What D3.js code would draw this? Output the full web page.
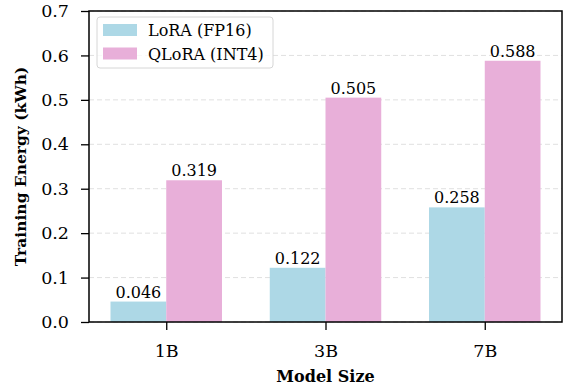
<!DOCTYPE html>
<html>
<head>
<meta charset="utf-8">
<script src="https://cdn.jsdelivr.net/npm/d3@7"></script>
<style>
  body { margin: 0; background: #fff; }
  text { font-family: "DejaVu Serif", serif; fill: #000; }
</style>
</head>
<body>
<svg id="chart"></svg>
<script>
// grouped bars: training energy by model size
const width = 564;
const height = 387;

const categories = ["1B", "3B", "7B"];
const seriesNames = ["LoRA (FP16)", "QLoRA (INT4)"];
const loraValues = [0.046, 0.122, 0.258];
const qloraValues = [0.319, 0.505, 0.588];
const yTicks = [0.0, 0.1, 0.2, 0.3, 0.4, 0.5, 0.6, 0.7];

const colors = ["#add8e6", "#e8afd9"];

const margin = { left: 89, right: 2, top: 11, bottom: 65 };

const svg = d3.select("#chart")
  .attr("width", width)
  .attr("height", height);

// bars sit at 0,1,2 with width 0.35, plus the usual 5% side margin
const x = d3.scaleLinear()
  .domain([-0.485, 2.485])
  .range([margin.left, width - margin.right]);

const y = d3.scaleLinear()
  .domain([0, 0.7])
  .range([height - margin.bottom, margin.top]);

const barW = 0.35;

// grid lines
svg.append("g")
  .selectAll("line")
  .data(yTicks)
  .enter()
  .append("line")
  .attr("x1", margin.left)
  .attr("x2", width - margin.right)
  .attr("y1", d => y(d))
  .attr("y2", d => y(d))
  .attr("stroke", "#e0e0e0")
  .attr("stroke-width", 1)
  .attr("stroke-dasharray", "5,3");

// bars + value labels
const series = [loraValues, qloraValues];
series.forEach(function (vals, s) {
  const offset = s === 0 ? -barW : 0;
  svg.append("g")
    .selectAll("rect")
    .data(vals)
    .enter()
    .append("rect")
    .attr("x", (d, i) => x(i + offset))
    .attr("width", x(barW) - x(0))
    .attr("y", d => y(d))
    .attr("height", d => y(0) - y(d))
    .attr("fill", colors[s]);

  svg.append("g")
    .selectAll("text")
    .data(vals)
    .enter()
    .append("text")
    .attr("x", (d, i) => x(i + offset + barW / 2))
    .attr("y", d => y(d) - 4)
    .attr("text-anchor", "middle")
    .attr("font-size", 16)
    .text(d => d.toFixed(3));
});

// axes
const yAxis = d3.axisLeft(y)
  .tickValues(yTicks)
  .tickFormat(d3.format(".1f"))
  .tickSize(8)
  .tickPadding(12);

const gy = svg.append("g")
  .attr("transform", "translate(" + margin.left + ",0)")
  .call(yAxis);
gy.select(".domain").remove();
gy.selectAll("text").attr("font-size", 17.5).attr("font-family", "DejaVu Serif");
gy.selectAll("line").attr("stroke-width", 1.3);

const xAxis = d3.axisBottom(x)
  .tickValues([0, 1, 2])
  .tickFormat((d, i) => categories[i])
  .tickSize(8)
  .tickPadding(15);

const gx = svg.append("g")
  .attr("transform", "translate(0," + y(0) + ")")
  .call(xAxis);
gx.select(".domain").remove();
gx.selectAll("text").attr("font-size", 17.5).attr("font-family", "DejaVu Serif");
gx.selectAll("line").attr("stroke-width", 1.3);

// frame
svg.append("rect")
  .attr("x", margin.left)
  .attr("y", margin.top)
  .attr("width", width - margin.right - margin.left)
  .attr("height", y(0) - margin.top)
  .attr("fill", "none")
  .attr("stroke", "#000")
  .attr("stroke-width", 1.5);

// axis titles
svg.append("text")
  .attr("x", x(1))
  .attr("y", 382)
  .attr("text-anchor", "middle")
  .attr("font-size", 16)
  .attr("font-weight", "bold")
  .text("Model Size");

svg.append("text")
  .attr("transform", "translate(26," + (margin.top + (y(0) - margin.top) / 2) + ") rotate(-90)")
  .attr("text-anchor", "middle")
  .attr("font-size", 15.5)
  .attr("font-weight", "bold")
  .text("Training Energy (kWh)");

// legend
const legend = svg.append("g").attr("transform", "translate(97,17)");
legend.append("rect")
  .attr("width", 176)
  .attr("height", 51)
  .attr("rx", 3)
  .attr("fill", "#fff")
  .attr("fill-opacity", 0.8)
  .attr("stroke", "#d6d6d6");
seriesNames.forEach(function (name, i) {
  legend.append("rect")
    .attr("x", 6)
    .attr("y", 7 + i * 23.5)
    .attr("width", 34)
    .attr("height", 12)
    .attr("fill", colors[i]);
  legend.append("text")
    .attr("x", 51)
    .attr("y", 19 + i * 23.5)
    .attr("font-size", 16)
    .text(name);
});
</script>
</body>
</html>
